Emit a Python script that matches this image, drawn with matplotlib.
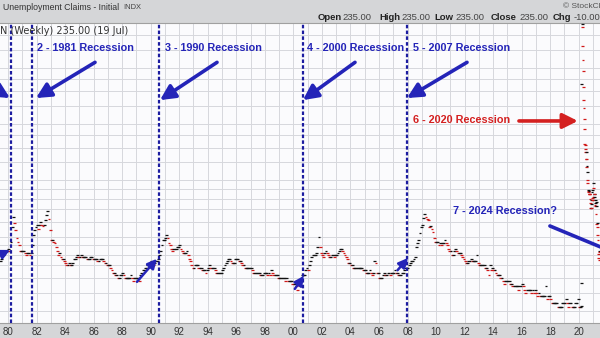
import numpy as np
import pandas as pd
import matplotlib
matplotlib.use("Agg")
import matplotlib.pyplot as plt

plt.rcParams['font.family'] = ['Liberation Sans', 'DejaVu Sans']

# Initial jobless claims in thousands, one reading a month, Jun 1979 .. Feb 2020
claims_monthly = [
    370, 380, 400, 400, 410, 420, 420,                              # 1979 (Jun-Dec)
    430, 420, 470, 560, 640, 590, 540, 490, 470, 450, 420, 420,     # 1980
    420, 420, 410, 400, 410, 410, 400, 410, 450, 510, 540, 560,     # 1981
    580, 550, 580, 600, 580, 570, 580, 610, 650, 690, 620, 540,     # 1982
    480, 480, 470, 460, 440, 420, 400, 410, 390, 380, 380, 370,     # 1983
    360, 350, 350, 360, 350, 350, 360, 380, 380, 390, 400, 390,     # 1984
    390, 400, 390, 390, 390, 390, 380, 380, 380, 390, 390, 380,     # 1985
    380, 380, 380, 370, 370, 380, 380, 380, 370, 360, 360, 350,     # 1986
    350, 350, 340, 330, 320, 320, 310, 310, 300, 300, 310, 310,     # 1987
    320, 310, 300, 300, 300, 300, 300, 310, 300, 290, 300, 300,     # 1988
    300, 300, 290, 310, 320, 330, 330, 340, 340, 350, 350, 350,     # 1989
    370, 360, 350, 360, 370, 370, 380, 400, 420, 450, 480, 480,     # 1990
    490, 510, 490, 460, 450, 430, 420, 430, 430, 430, 440, 440,     # 1991
    450, 430, 420, 410, 410, 410, 420, 400, 380, 370, 350, 340,     # 1992
    340, 350, 350, 350, 340, 340, 340, 330, 330, 330, 320, 330,     # 1993
    340, 350, 340, 340, 340, 340, 330, 320, 320, 320, 320, 320,     # 1994
    330, 340, 350, 360, 370, 380, 380, 370, 360, 360, 360, 380,     # 1995
    380, 380, 370, 370, 360, 350, 350, 340, 340, 340, 340, 340,     # 1996
    340, 330, 320, 320, 320, 320, 320, 320, 310, 310, 310, 320,     # 1997
    320, 320, 310, 320, 310, 330, 320, 310, 310, 310, 310, 300,     # 1998
    300, 300, 300, 300, 300, 290, 300, 290, 290, 290, 290, 280,     # 1999
    280, 280, 270, 260, 280, 290, 300, 310, 310, 310, 330, 340,     # 2000
    330, 350, 370, 390, 400, 400, 400, 410, 440, 500, 440, 410,     # 2001
    400, 390, 410, 420, 410, 400, 390, 390, 400, 400, 390, 400,     # 2002
    400, 410, 420, 430, 430, 420, 410, 400, 390, 380, 360, 360,     # 2003
    350, 350, 340, 340, 340, 340, 340, 340, 340, 340, 330, 330,     # 2004
    330, 320, 320, 320, 330, 320, 310, 320, 370, 360, 320, 320,     # 2005
    300, 300, 300, 310, 320, 310, 310, 320, 320, 310, 320, 320,     # 2006
    320, 330, 320, 320, 310, 310, 310, 320, 320, 330, 340, 340,     # 2007
    340, 350, 360, 370, 370, 380, 390, 440, 460, 480, 520, 560,     # 2008
    580, 630, 660, 640, 620, 610, 560, 570, 550, 530, 490, 470,     # 2009
    470, 470, 450, 460, 450, 460, 460, 480, 460, 450, 430, 420,     # 2010
    420, 400, 400, 420, 430, 420, 410, 410, 410, 400, 390, 380,     # 2011
    370, 360, 360, 370, 370, 380, 370, 370, 370, 370, 400, 360,     # 2012
    350, 350, 350, 350, 350, 340, 340, 330, 310, 350, 330, 340,     # 2013
    330, 330, 320, 310, 310, 310, 300, 300, 290, 280, 290, 290,     # 2014
    290, 290, 280, 280, 270, 270, 270, 270, 270, 260, 270, 270,     # 2015
    280, 270, 260, 250, 260, 260, 260, 260, 250, 260, 250, 260,     # 2016
    250, 240, 250, 240, 240, 240, 240, 240, 270, 230, 240, 240,     # 2017
    230, 220, 220, 220, 220, 220, 210, 210, 210, 210, 220, 220,     # 2018
    220, 230, 220, 210, 220, 220, 210, 210, 210, 220, 220, 230,     # 2019
    210, 210,                                                       # 2020 (Jan-Feb)
]

# weekly readings through the 2020 spike, first week ending 7 Mar 2020
claims_weekly = [
    211, 282, 3307, 6867, 6615, 5237, 4442, 3867, 3176, 2687, 2446, 2123,
    1897, 1566, 1540, 1482, 1413, 1310, 1307, 1422, 1186, 1191, 971, 1104,
    1011, 881, 893, 866, 873, 849, 845, 842, 791, 757, 709, 711,
    748, 787, 716, 862, 892, 806, 790, 787, 965, 914, 812, 812,
    848, 841, 736, 754, 725, 781, 658, 728, 769, 586, 566, 590,
    507, 478, 444, 405, 385, 375, 418, 415,
]

tick_years = list(range(1980, 2021, 2))
tick_labels = ["%02d" % (y % 100) for y in tick_years]
grid_levels = [200, 250, 300, 350, 400, 450, 500, 600, 700, 800, 900, 1000,
               1250, 1500, 1750, 2000, 2500, 3000, 3500, 4000, 5000, 6000]

recession_starts = [1980.21, 1981.68, 1990.58, 2000.67, 2007.96]

BLUE = '#2424b8'
RED = '#d42020'

# label text, left x (year), y (claims, thousands), colour
notes = [
    ("2 - 1981 Recession", 1982.03, 5130, BLUE),
    ("3 - 1990 Recession", 1991.00, 5130, BLUE),
    ("4 - 2000 Recession", 2000.95, 5130, BLUE),
    ("5 - 2007 Recession", 2008.38, 5130, BLUE),
    ("6 - 2020 Recession", 2008.38, 2110, RED),
    ("7 - 2024 Recession?", 2011.18, 687, BLUE),
]

# big arrows: tail (year, claims), tip (year, claims), colour
arrows = [
    ((1976.0, 4300), (1980.14, 2766), BLUE),
    ((1986.10, 4300), (1981.96, 2766), BLUE),
    ((1994.65, 4300), (1990.65, 2697), BLUE),
    ((2004.32, 4300), (2000.67, 2697), BLUE),
    ((2012.17, 4300), (2007.96, 2766), BLUE),
    ((2015.81, 2085), (2019.94, 2085), RED),
    ((2017.98, 570), (2023.0, 395), BLUE),
]
# short arrows drawn onto the data near each turn
small_arrows = [
    ((1978.04, 353), (1980.14, 424)),
    ((1989.04, 286), (1990.44, 380)),
    ((2000.10, 262), (2000.74, 308)),
    ((2007.30, 330), (2008.03, 384)),
]

W, H = 600, 338


def px(x, y):
    return x / W, 1 - y / H


fig = plt.figure(figsize=(W / 100, H / 100), dpi=100, facecolor='#d5d6d8')
ax = fig.add_axes([0, 15 / H, 1, 300 / H], facecolor='#fbfbfd')

# x positions as decimal years
mx = 1979 + (5.5 + np.arange(len(claims_monthly))) / 12
wd = pd.date_range('2020-03-07', periods=len(claims_weekly), freq='7D')
wx = wd.year + (wd.dayofyear - 1) / 365.25
xs = np.concatenate([mx, np.asarray(wx, dtype=float)])
vals = np.array(claims_monthly + claims_weekly, dtype=float)

# up readings black, down readings red
up = np.r_[True, vals[1:] >= vals[:-1]]
cols = np.where(up, '#111111', '#d01818')

ax.set_yscale('log')
ax.set_xlim(1979.44, 2021.49)
ax.set_ylim(172, 6990)

for yr in range(1979, 2023):
    ax.axvline(yr, color='#d6d7dc', lw=0.7, zorder=0)
for lv in grid_levels:
    ax.axhline(lv, color='#d6d7dc', lw=0.7, zorder=0)

ax.scatter(xs, vals, marker='_', s=4, linewidths=0.9, c=cols, zorder=3)

for r in recession_starts:
    ax.axvline(r, color='#1c1ca0', lw=1.6, ls=(0, (1.6, 1.0)), zorder=4)

for txt, x, y, c in notes:
    ax.text(x, y, txt, color=c, fontsize=7.8, fontweight='bold',
            ha='left', va='center', zorder=6)

for tail, tip, c in arrows:
    ax.annotate('', xy=tip, xytext=tail, annotation_clip=False,
                arrowprops=dict(arrowstyle='-|>,head_length=0.9,head_width=0.45',
                                color=c, lw=2.6, mutation_scale=10,
                                shrinkA=0, shrinkB=0), zorder=5)

for tail, tip in small_arrows:
    ax.annotate('', xy=tip, xytext=tail, annotation_clip=False,
                arrowprops=dict(arrowstyle='-|>,head_length=0.8,head_width=0.4',
                                color=BLUE, lw=1.8, mutation_scale=7,
                                shrinkA=0, shrinkB=0), zorder=5)

ax.set_xticks(tick_years)
ax.set_xticklabels(tick_labels)
ax.tick_params(axis='x', length=0, pad=3, labelsize=7, labelcolor='#333333')
ax.set_yticks([])
ax.set_yticks([], minor=True)
for side in ['left', 'right']:
    ax.spines[side].set_visible(False)
for side in ['top', 'bottom']:
    ax.spines[side].set_color('#a0a0a0')
    ax.spines[side].set_linewidth(0.8)

ax.text(0.0, (323 - 31) / 300, "N (Weekly) 235.00 (19 Jul)", transform=ax.transAxes,
        fontsize=7, color='#333333', ha='left', va='center', zorder=6,
        family='DejaVu Sans')

# header strip
fig.text(*px(3, 7), "Unemployment Claims - Initial", fontsize=6.3, color='#333333',
         va='center', ha='left')
fig.text(*px(123, 7.5), "INDX", fontsize=5.4, color='#444444', va='center', ha='left')
fig.text(*px(563, 6), "\u00a9 StockCharts.com", fontsize=6, color='#555555',
         va='center', ha='left')

quote = [("Open", 318, True), ("235.00", 342, False), ("High", 379, True),
         ("235.00", 401, False), ("Low", 434, True), ("235.00", 455, False),
         ("Close", 491, True), ("235.00", 519, False), ("Chg", 553, True),
         ("-10.00", 574, False)]
for s, x, bold in quote:
    fig.text(*px(x, 17.5), s, fontsize=6.8, color='#222222' if bold else '#444444',
             fontweight='bold' if bold else 'normal', va='center', ha='left')

fig.savefig('out.png', dpi=100, facecolor=fig.get_facecolor())
